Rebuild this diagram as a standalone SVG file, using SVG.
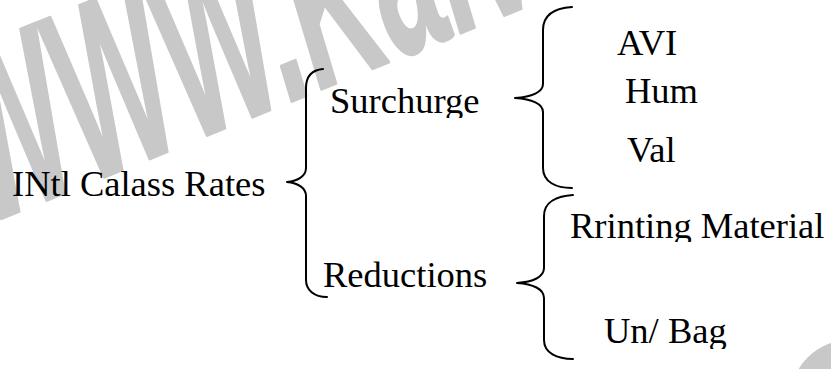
<svg xmlns="http://www.w3.org/2000/svg" width="831" height="369" viewBox="0 0 831 369">
  <style>
    .lbl { font-family: "Liberation Serif", "Times New Roman", serif; font-size: 36.5px; fill: #000; }
    .brace { fill: none; stroke: #000; stroke-width: 2; stroke-linecap: round; stroke-linejoin: round; }
    .wm { font-family: "Liberation Sans", Arial, sans-serif; font-weight: bold; font-style: italic; fill: #c8c8c8; stroke: #c8c8c8; stroke-width: 3; stroke-linejoin: round; }
  </style>
  <defs>
    <clipPath id="clipSur"><rect x="300" y="60" width="220" height="58"/></clipPath>
    <clipPath id="clipPrint"><rect x="560" y="200" width="271" height="42"/></clipPath>
    <clipPath id="clipBag"><rect x="590" y="300" width="200" height="49"/></clipPath>
  </defs>
  <rect width="831" height="369" fill="#fff"/>
  <g id="watermark">
    <text class="wm" font-size="245" transform="translate(-12,224) rotate(-22) scale(0.48,1)">WWW.Kalvi</text>
    <circle cx="850" cy="400" r="60" fill="#c8c8c8"/>
  </g>
  <g id="connectors">
    <path class="brace" d="M323,69 C312,70 306,76 306,88 L306,168 C306,176 298,181 287,182 C298,183 306,188 306,196 L306,280 C306,290 314,297 327,297"/>
    <path class="brace" d="M572,7 C556,8 543,14 543,30 L543,84 C543,92 532,97 515,98 C532,99 543,104 543,112 L543,168 C543,182 556,188 572,188"/>
    <path class="brace" d="M573,195 C557,196 544,202 544,216 L544,268 C544,277 533,282 517,283 C533,284 544,289 544,298 L544,340 C544,353 557,359 573,359"/>
  </g>
  <g id="root"><text class="lbl" x="12" y="196">INtl Calass Rates</text></g>
  <g id="surchurge"><text class="lbl" x="330" y="113" clip-path="url(#clipSur)">Surchurge</text></g>
  <g id="reductions"><text class="lbl" x="323" y="287">Reductions</text></g>
  <g id="avi"><text class="lbl" x="617" y="55">AVI</text></g>
  <g id="hum"><text class="lbl" x="625" y="103">Hum</text></g>
  <g id="val"><text class="lbl" x="627" y="162">Val</text></g>
  <g id="printing"><text class="lbl" x="570" y="238" clip-path="url(#clipPrint)">Rrinting Material</text></g>
  <g id="unbag"><text class="lbl" x="604" y="343" clip-path="url(#clipBag)">Un/ Bag</text></g>
</svg>
